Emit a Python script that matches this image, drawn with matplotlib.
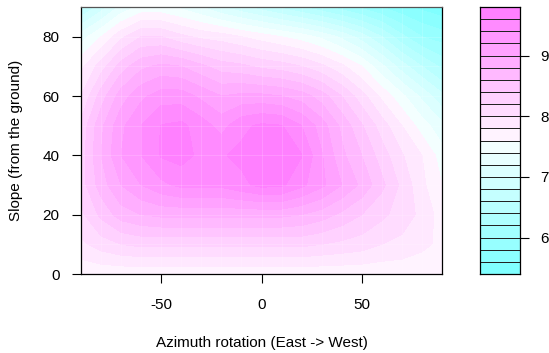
import colorsys
import matplotlib
matplotlib.use("Agg")
import matplotlib.pyplot as plt
import numpy as np

plt.rcParams["font.family"] = ["Liberation Sans", "DejaVu Sans"]
plt.rcParams["axes.unicode_minus"] = False

# grid of the measurement (degrees)
azimuth = [-90, -80, -70, -60, -50, -40, -30, -20, -10, 0,
           10, 20, 30, 40, 50, 60, 70, 80, 90]
slope = [0, 10, 20, 30, 40, 50, 60, 70, 80, 90]

# output, one row per slope, columns follow azimuth
output = [
    [7.65, 7.65, 7.65, 7.65, 7.65, 7.65, 7.65, 7.65, 7.65, 7.65, 7.65, 7.65, 7.65, 7.65, 7.65, 7.65, 7.65, 7.65, 7.65],
    [7.95, 8.10, 8.20, 8.25, 8.25, 8.25, 8.25, 8.25, 8.25, 8.25, 8.25, 8.25, 8.20, 8.15, 8.10, 8.00, 7.95, 7.85, 7.75],
    [8.15, 8.45, 8.70, 8.80, 8.85, 8.85, 8.85, 8.85, 8.85, 8.85, 8.85, 8.80, 8.70, 8.55, 8.40, 8.25, 8.10, 7.95, 7.70],
    [8.30, 8.70, 9.00, 9.20, 9.35, 9.45, 9.45, 9.45, 9.55, 9.66, 9.64, 9.45, 9.25, 9.00, 8.75, 8.45, 8.15, 7.85, 7.60],
    [8.30, 8.80, 9.20, 9.40, 9.62, 9.68, 9.55, 9.58, 9.65, 9.75, 9.70, 9.61, 9.22, 8.85, 8.60, 8.30, 8.02, 7.80, 7.50],
    [8.25, 8.75, 9.15, 9.40, 9.61, 9.65, 9.50, 9.32, 9.55, 9.64, 9.61, 9.40, 9.10, 8.75, 8.42, 8.10, 7.80, 7.50, 7.25],
    [8.00, 8.50, 8.90, 9.15, 9.30, 9.30, 9.15, 9.00, 9.05, 9.05, 9.00, 8.90, 8.70, 8.40, 8.08, 7.75, 7.45, 7.15, 6.85],
    [7.75, 8.10, 8.50, 8.75, 8.85, 8.80, 8.65, 8.50, 8.45, 8.35, 8.30, 8.20, 8.05, 7.85, 7.60, 7.25, 6.90, 6.60, 6.35],
    [7.30, 7.60, 7.95, 8.20, 8.20, 8.05, 7.95, 7.90, 7.80, 7.70, 7.60, 7.50, 7.35, 7.15, 6.90, 6.60, 6.25, 6.00, 5.90],
    [6.55, 6.90, 7.25, 7.45, 7.45, 7.35, 7.20, 7.00, 6.85, 6.70, 6.55, 6.40, 6.25, 6.10, 5.95, 5.80, 5.65, 5.55, 5.45],
]

levels = np.linspace(5.4, 9.8, 23)
key_ticks = [6, 7, 8, 9]


def cm_colors(n):
    # same ramp as R's cm.colors()
    k = n // 2
    even = n % 2 == 0
    l1 = k + 1 - even
    l2 = n - k + even
    cyan = [colorsys.hsv_to_rgb(6 / 12, s, 1)
            for s in np.linspace(0.5, 0.5 / k if even else 0, l1)]
    pink = [colorsys.hsv_to_rgb(10 / 12, s, 1)
            for s in np.linspace(0, 0.5, l2)[1:]]
    return cyan + pink


cols = cm_colors(len(levels) - 1)

W, H = 549, 353
fig = plt.figure(figsize=(W / 100, H / 100), dpi=100)

ax = fig.add_axes([81 / W, 1 - 274 / H, (442 - 81) / W, (274 - 7) / H])
ax.contourf(azimuth, slope, output, levels=levels, colors=cols)
# faint seams at the data grid, like the R device leaves
for a in azimuth[1:-1]:
    ax.axvline(a, color="white", lw=0.6, alpha=0.18)
for s in slope[1:-1]:
    ax.axhline(s, color="white", lw=0.6, alpha=0.18)
ax.set_xlim(-90, 90)
ax.set_ylim(0, 90)
ax.set_xticks([-50, 0, 50])
ax.set_yticks([0, 20, 40, 60, 80])
ax.tick_params(length=6.5, width=0.8, labelsize=11, colors="black")
ax.tick_params(axis="x", pad=11)
ax.tick_params(axis="y", pad=9)
for sp in ax.spines.values():
    sp.set_linewidth(0.9)
ax.spines["top"].set_color("#555555")
ax.set_xlabel("Azimuth rotation (East -> West)", fontsize=11, va="center")
ax.xaxis.set_label_coords(0.5, -0.258)
ax.set_ylabel("Slope (from the ground)", fontsize=11, va="center")
ax.yaxis.set_label_coords(-0.18, 0.5)

# colour key
cax = fig.add_axes([480 / W, 1 - 274 / H, 40 / W, (274 - 7) / H])
mids = (levels[:-1] + levels[1:]) / 2
cax.pcolormesh([0, 1], levels, mids[:, None],
               cmap=matplotlib.colors.ListedColormap(cols),
               norm=matplotlib.colors.BoundaryNorm(levels, len(cols)),
               edgecolors="#222222", linewidth=0.5)
cax.set_xlim(0, 1)
cax.set_ylim(levels[0], levels[-1])
cax.set_xticks([])
cax.yaxis.tick_right()
cax.set_yticks(key_ticks)
cax.tick_params(length=6.5, width=0.8, labelsize=11, pad=8)
for sp in cax.spines.values():
    sp.set_linewidth(0.9)

fig.savefig("out.png", dpi=100)
